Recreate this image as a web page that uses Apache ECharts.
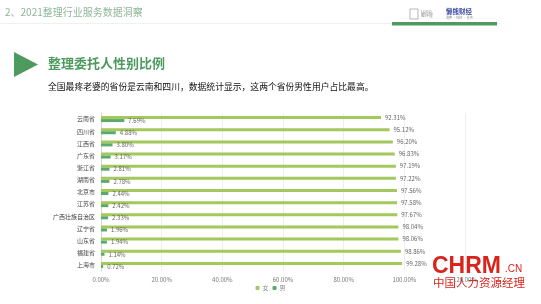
<!DOCTYPE html>
<html>
<head>
<meta charset="utf-8">
<script src="https://cdn.jsdelivr.net/npm/echarts@6/dist/echarts.min.js"></script>
<style>
  html, body { margin: 0; padding: 0; background: #fff; }
  #main { width: 541px; height: 304px; }
</style>
</head>
<body>
<div id="main"></div>
<script>
// 省份
var provinces = ["云南省", "四川省", "江西省", "广东省", "浙江省", "湖南省", "北京市",
  "江苏省", "广西壮族自治区", "辽宁省", "山东省", "福建省", "上海市"];
// 女 / 男 (%)
var female = [92.31, 95.12, 96.20, 96.83, 97.19, 97.22, 97.56, 97.58, 97.67, 98.04, 98.06, 98.86, 99.28];
var male = [7.69, 4.88, 3.80, 3.17, 2.81, 2.78, 2.44, 2.42, 2.33, 1.96, 1.94, 1.14, 0.72];

var FONT = '"Noto Sans CJK SC", "Noto Sans", sans-serif';

var myChart = echarts.init(document.getElementById("main"));

var barLabel = {
  show: true,
  position: "right",
  distance: 4,
  fontSize: 6,
  color: "#666",
  fontFamily: FONT,
  formatter: function (p) { return p.value.toFixed(2) + "%"; }
};

var option = {
  backgroundColor: "#fff",
  animation: false,
  textStyle: { fontFamily: FONT },
  grid: { left: 101, right: 76, top: 113, bottom: 33, containLabel: false },
  legend: {
    bottom: 8,
    left: "center",
    itemWidth: 4,
    itemHeight: 4,
    itemGap: 4,
    textStyle: { fontSize: 6, color: "#888", padding: [0, 0, 0, -2] },
    data: ["女", "男"]
  },
  xAxis: {
    type: "value",
    min: 0,
    max: 120,
    interval: 20,
    axisLabel: {
      fontSize: 6,
      color: "#777",
      margin: 6,
      formatter: function (v) { return v.toFixed(2) + "%"; }
    },
    splitLine: { lineStyle: { color: "#e6e6e6", width: 0.7 } },
    axisLine: { show: false },
    axisTick: { show: false }
  },
  yAxis: {
    type: "category",
    data: provinces,
    inverse: true,
    axisLabel: { fontSize: 6, color: "#444", margin: 6 },
    axisLine: { lineStyle: { color: "#d8d8d8" } },
    axisTick: { show: false }
  },
  series: [
    {
      name: "女",
      type: "bar",
      data: female,
      barWidth: 3,
      barGap: "0%",
      itemStyle: { color: "#a3c85b" },
      label: barLabel
    },
    {
      name: "男",
      type: "bar",
      data: male,
      barWidth: 3,
      itemStyle: { color: "#5aa96e" },
      label: barLabel
    }
  ],
  graphic: [
    { type: "text", left: 5, top: 7, style: { text: "2、2021整理行业服务数据洞察", fill: "#8fb79a", fontSize: 10, fontFamily: FONT } },
    { type: "rect", shape: { x: 0, y: 23, width: 500, height: 0.6 }, style: { fill: "#e2e2e2" } },
    { type: "rect", shape: { x: 392, y: 22, width: 105, height: 3.5 }, style: { fill: "#4e9a5e" } },
    { type: "rect", shape: { x: 410, y: 9, width: 8, height: 10 }, style: { fill: "none", stroke: "#888", lineWidth: 0.6 } },
    { type: "text", left: 421, top: 9, style: { text: "LOGO\n整序屋", fill: "#888", fontSize: 4, fontFamily: FONT } },
    { type: "text", left: 446, top: 8, style: { text: "懒熊财经", fill: "#3b4a9e", fontSize: 6.5, fontWeight: "bold", fontFamily: FONT } },
    { type: "text", left: 446, top: 16, style: { text: "消费 · 科技 · 投资", fill: "#888", fontSize: 3, fontFamily: FONT } },
    { type: "polygon", shape: { points: [[14, 52], [38, 64.5], [14, 77]] }, style: { fill: "#4e9a5e" } },
    { type: "text", left: 48, top: 57, style: { text: "整理委托人性别比例", fill: "#4e9a5e", fontSize: 13, fontWeight: "bold", fontFamily: FONT } },
    { type: "text", left: 48, top: 82, style: { text: "全国最疼老婆的省份是云南和四川，数据统计显示，这两个省份男性用户占比最高。", fill: "#111", fontSize: 8.8, fontFamily: FONT } },
    { type: "text", left: 432, top: 255, style: { text: "CHRM", fill: "#d9241c", fontSize: 23, fontWeight: "bold", fontFamily: "Liberation Sans, sans-serif" } },
    { type: "text", left: 505, top: 264, style: { text: ".CN", fill: "#d9241c", fontSize: 10, fontFamily: "Liberation Sans, sans-serif" } },
    { type: "text", left: 433, top: 277, style: { text: "中国人力资源经理", fill: "#d9241c", fontSize: 11.5, fontFamily: FONT } }
  ]
};

option && myChart.setOption(option);
</script>
</body>
</html>
